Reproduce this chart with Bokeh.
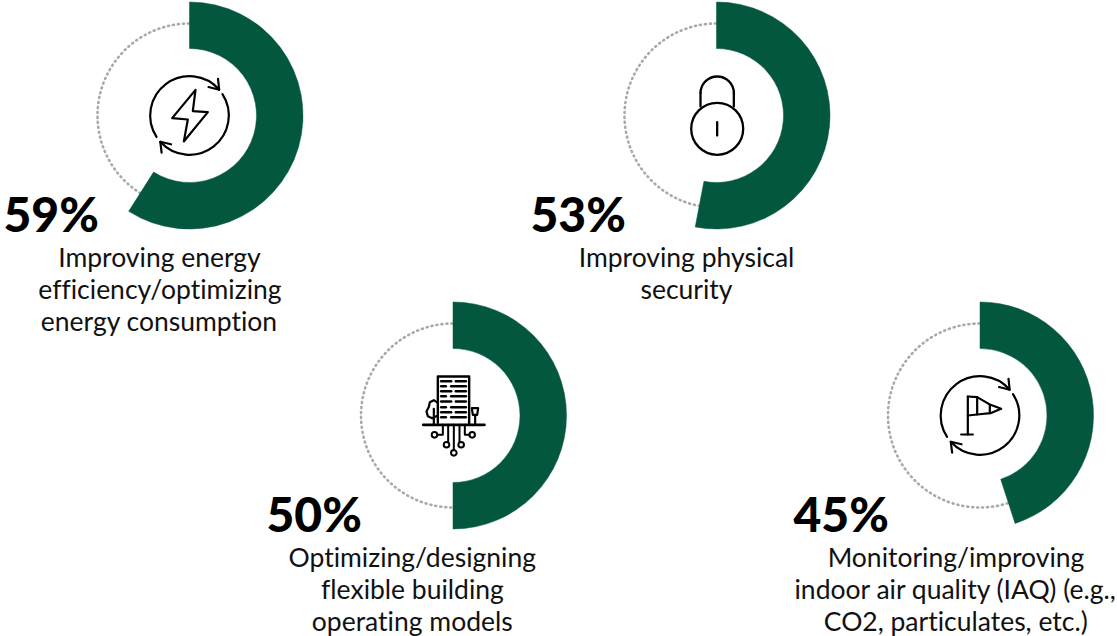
import math
from bokeh.plotting import figure
from bokeh.core.properties import value
from bokeh.embed import file_html
from bokeh.resources import INLINE

# --- data ---
categories = ["energy", "security", "models", "air"]
percent_values = [59, 53, 50, 45]
percent_labels = ["59%", "53%", "50%", "45%"]
label_lines = [
    ["Improving energy", "efficiency/optimizing", "energy consumption"],
    ["Improving physical", "security"],
    ["Optimizing/designing", "flexible building", "operating models"],
    ["Monitoring/improving", "indoor air quality (IAQ) (e.g.,", "CO2, particulates, etc.)"],
]

# --- layout (page pixels) ---
W, H = 1117, 636
centers = [(189, 115), (716, 115), (452.5, 415), (979.5, 415)]
pct_x = [3, 530, 266, 793]
pct_y = [213, 213, 513, 513]
label_x = [159, 686, 412, 955.5]
label_y = [256, 256, 556, 556]
LINE_H = 32
R_OUT, R_IN, R_DOT = 113.5, 67, 92
GREEN = "#04573f"
GREY = "#a9a9a9"
FONT = "Lato"
INK = "#000000"

p = figure(width=W, height=H, x_range=(0, W), y_range=(0, H), output_backend="svg",
           toolbar_location=None, min_border=0, outline_line_color=None,
           background_fill_color="white", border_fill_color="white")
p.axis.visible = False
p.grid.visible = False


def Y(py):
    return H - py


def poly(pts, width=2.0):
    p.line([a for a, _ in pts], [Y(b) for _, b in pts], line_color=INK, line_width=width,
           line_cap="round", line_join="round")


def zoomed(ox, oy, pts):
    return [(ox + a / 3, oy + b / 3) for a, b in pts]


def ring(cx, cy, r, width=2.0):
    p.circle(x=[cx], y=[Y(cy)], radius=r, fill_color="white", fill_alpha=0,
             line_color=INK, line_width=width)


def cycle_arrows(cx, cy, r=39.3):
    # two clockwise arcs with arrow heads
    for a0, a1 in [(213, 41), (33, -138)]:
        p.arc(x=[cx], y=[Y(cy)], radius=r, start_angle=math.radians(a0),
              end_angle=math.radians(a1), direction="clock",
              line_color=INK, line_width=2.2, line_cap="round")
        tip = (cx + r * math.cos(math.radians(a1)), cy - r * math.sin(math.radians(a1)))
        t = math.radians(a1 - 90)  # travel direction (clockwise)
        back = []
        for d in (145, -145):
            back.append((tip[0] + 11 * math.cos(t + math.radians(d)),
                         tip[1] - 11 * math.sin(t + math.radians(d))))
        poly([back[0], tip, back[1]], 2.2)


# dotted tracks and value wedges
for (cx, cy), v in zip(centers, percent_values):
    p.arc(x=[cx], y=[Y(cy)], radius=R_DOT, start_angle=0, end_angle=2 * math.pi,
          line_color=GREY, line_width=2.6, line_dash="1 4", line_cap="round")
    p.annular_wedge(x=[cx], y=[Y(cy)], inner_radius=R_IN, outer_radius=R_OUT,
                    start_angle=math.pi / 2 - v / 100 * 2 * math.pi, end_angle=math.pi / 2,
                    direction="anticlock", fill_color=GREEN, line_color=GREEN, line_width=0.5)

# icon 1: bolt
cycle_arrows(*centers[0])
poly(zoomed(130, 70, [(195, 58), (125, 143), (172, 147), (160, 213), (232, 125), (187, 122), (195, 58)]), 2.2)

# icon 2: padlock
ring(716.7, 128.3, 26, 2.3)
poly(zoomed(670, 70, [(90, 108), (90, 68)]), 2.3)
poly(zoomed(670, 70, [(190, 108), (190, 68)]), 2.3)
p.arc(x=[716.7], y=[Y(92.7)], radius=16.7, start_angle=0, end_angle=math.pi,
      direction="anticlock", line_color=INK, line_width=2.3)
poly(zoomed(670, 70, [(140, 155), (140, 195)]), 2.3)

# icon 3: building
O3 = (410, 365)
poly(zoomed(*O3, [(82, 172), (82, 33), (176, 33), (176, 178)]), 2.4)
poly(zoomed(*O3, [(38, 178), (222, 178)]), 2.6)
rows = [47, 62, 77, 92, 108, 125, 140, 155]
for i, ry in enumerate(rows):
    for a, b in ([(92, 122), (136, 166)] if i % 2 == 0 else [(92, 106), (122, 166)]):
        poly(zoomed(*O3, [(a, ry), (b, ry)]), 2.5)
poly(zoomed(*O3, [(70, 178), (70, 130)]), 2.2)
poly(zoomed(*O3, [(82, 112), (70, 104), (58, 110), (55, 124), (48, 138), (52, 152), (65, 158), (82, 150)]), 2.2)
poly(zoomed(*O3, [(194, 178), (194, 150)]), 2.2)
poly(zoomed(*O3, [(184, 128), (203, 128), (200, 148), (187, 148), (184, 128)]), 2.2)
poly(zoomed(*O3, [(130, 178), (130, 254)]), 2)
poly(zoomed(*O3, [(113, 178), (113, 229)]), 2)
poly(zoomed(*O3, [(147, 178), (147, 229)]), 2)
poly(zoomed(*O3, [(97, 178), (97, 208), (81, 208)]), 2)
poly(zoomed(*O3, [(163, 178), (163, 208), (177, 208)]), 2)
for a, b in [(72, 208), (185, 208), (108, 238), (152, 238), (130, 262)]:
    cxx, cyy = O3[0] + a / 3, O3[1] + b / 3
    ring(cxx, cyy, 2.8, 2)

# icon 4: windsock
cycle_arrows(*centers[3])
O4 = (930, 370)
poly(zoomed(*O4, [(112, 78), (112, 192)]), 2.2)
poly(zoomed(*O4, [(92, 192), (127, 192)]), 2.2)
poly(zoomed(*O4, [(112, 78), (140, 80), (180, 103), (212, 115), (180, 128), (140, 132), (112, 135)]), 2.2)
poly(zoomed(*O4, [(140, 80), (140, 132)]), 2.2)
poly(zoomed(*O4, [(178, 103), (178, 128)]), 2.2)

# text
p.text(x=pct_x, y=[Y(v) for v in pct_y], text=percent_labels, text_font=value("Lato Black"),
       text_font_style="bold", text_font_size="48px", text_color=INK,
       text_align="left", text_baseline="middle")
for lx, ly, lines in zip(label_x, label_y, label_lines):
    p.text(x=[lx] * len(lines), y=[Y(ly + i * LINE_H) for i in range(len(lines))], text=lines,
           text_font=value(FONT), text_font_size="26.5px", text_color="#111111",
           text_align="center", text_baseline="middle")

html = file_html(p, INLINE)
html = html.replace("<head>", "<head><style>html,body{margin:0!important;padding:0;overflow:hidden;font-variant-ligatures:none}</style>", 1)
open("out.html", "w").write(html)
